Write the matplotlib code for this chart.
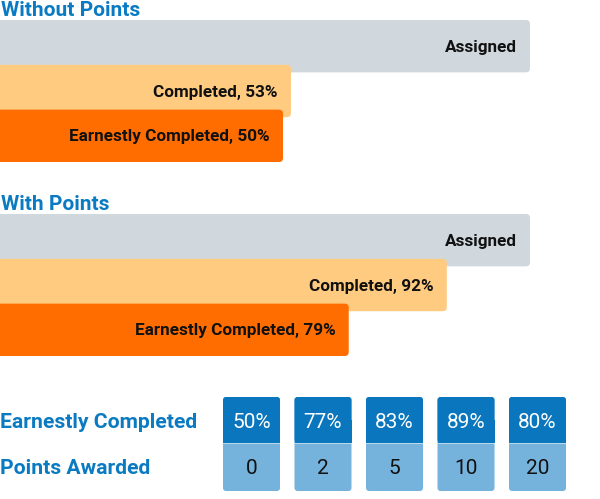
import matplotlib.pyplot as plt
from matplotlib.patches import FancyBboxPatch, Rectangle

plt.rcParams['font.family'] = ['Roboto', 'DejaVu Sans']

# bar sections (bar lengths, as % of the Assigned bar)
sections = ["Without Points", "With Points"]
bar_names = ["Assigned", "Completed", "Earnestly Completed"]
bar_len_without = [100, 54.9, 53.4]
bar_len_with = [100, 84.3, 65.8]
pct_without = [None, 53, 50]
pct_with = [None, 92, 79]
bar_colors = ["#d0d8de", "#ffcb80", "#ff6d00"]

# table at the bottom
row_labels = ["Earnestly Completed", "Points Awarded"]
earnest_pct = [50, 77, 83, 89, 80]
points = [0, 2, 5, 10, 20]

BLUE = "#0a7bc2"
W, H = 600, 499

fig = plt.figure(figsize=(6, 4.99), dpi=100)


def px_axes(x0, y0, w, h):
    ax = fig.add_axes([x0 / W, 1 - (y0 + h) / H, w / W, h / H])
    ax.set_axis_off()
    return ax


def bar_section(y0, title, lengths, pcts):
    fig.text(1 / W, 1 - (y0 - 10) / H, title, color=BLUE, fontsize=15,
             fontweight="bold", ha="left", va="center")
    ax = px_axes(0, y0, W, 142)
    xu = 100 / 530  # x units per px
    pitch = 44.5
    bh = 52 / pitch
    ax.set_xlim(0, W * xu)
    ax.set_ylim(2 + bh, 0)
    for i, (name, L, p, c) in enumerate(zip(bar_names, lengths, pcts, bar_colors)):
        patch = FancyBboxPatch((-3, i), L + 3, bh,
                               boxstyle=f"round,pad=0,rounding_size={4 * xu}",
                               mutation_aspect=(1 / pitch) / xu,
                               fc=c, ec="none", zorder=i)
        ax.add_patch(patch)
        label = name if p is None else f"{name}, {p}%"
        ax.text(L - 13 * xu, i + bh / 2 + 1 / pitch, label, ha="right", va="center",
                fontsize=12.3, fontweight="bold", color="#111111", zorder=10)


bar_section(20, sections[0], bar_len_without, pct_without)
bar_section(214, sections[1], bar_len_with, pct_with)

# table
for lab, yc in zip(row_labels, [422, 469]):
    fig.text(0, 1 - yc / H, lab, color=BLUE, fontsize=15.2,
             fontweight="bold", ha="left", va="center")

ax = px_axes(223, 397, 343, 94)
pitch = 71.5
xu = 1 / pitch
bw = 57 * xu
ax.set_xlim(0, 4 + bw)
ax.set_ylim(94 / 46, 0)
yu = 1 / 46
for i, (e, pt) in enumerate(zip(earnest_pct, points)):
    ax.add_patch(FancyBboxPatch((i, 0), bw, 94 / 46,
                                boxstyle=f"round,pad=0,rounding_size={3 * xu}",
                                mutation_aspect=yu / xu, fc="#76b3dc", ec="none"))
    ax.add_patch(FancyBboxPatch((i, 0), bw, 1,
                                boxstyle=f"round,pad=0,rounding_size={3 * xu}",
                                mutation_aspect=yu / xu, fc="#0a76bd", ec="none"))
    ax.add_patch(Rectangle((i, 0.5), bw, 0.5, fc="#0a76bd", ec="none"))
    ax.plot([i, i + bw], [1, 1], color="white", lw=0.6, alpha=0.6)
    ax.text(i + bw / 2, 0.5 + 2 * yu, f"{e}%", ha="center", va="center",
            fontsize=15, color="white")
    ax.text(i + bw / 2, 1 + 0.5 * 48 / 46 + 2 * yu, str(pt), ha="center",
            va="center", fontsize=15, color="#111111")

fig.savefig("out.png", dpi=100)
